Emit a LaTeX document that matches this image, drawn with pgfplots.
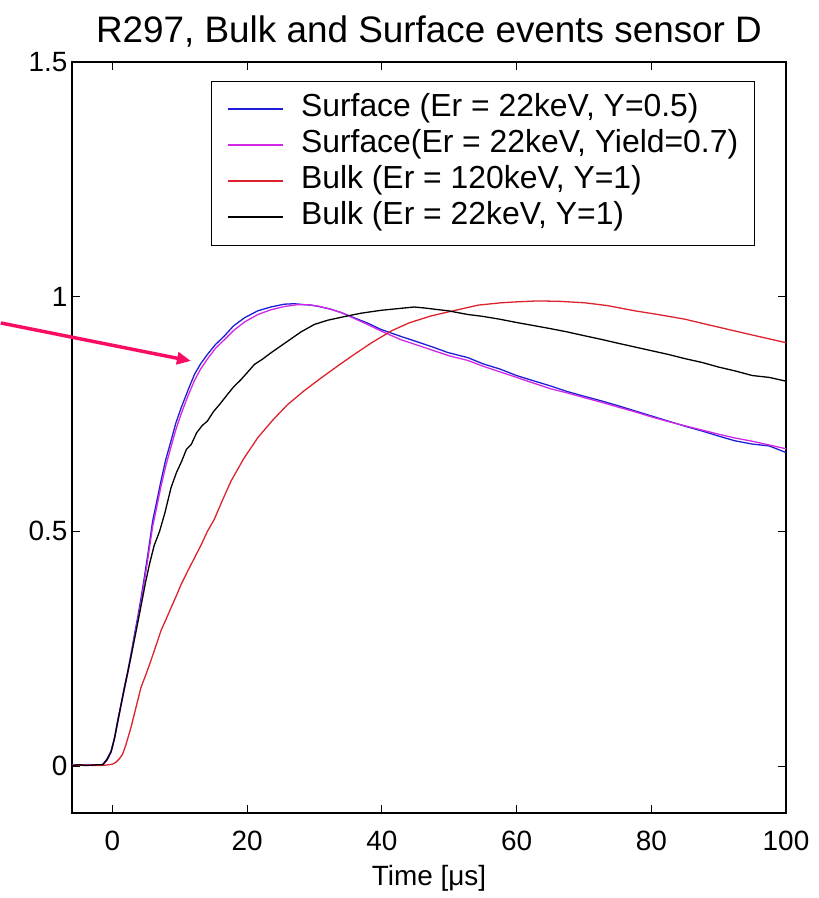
\documentclass[border=0pt]{standalone}
\usepackage{fontspec}
\setmainfont{Liberation Sans}
\usepackage{pgfplots}
\pgfplotsset{compat=1.18}
\usetikzlibrary{arrows.meta}

\definecolor{sblue}{RGB}{30,30,215}
\definecolor{smag}{RGB}{210,40,230}
\definecolor{bred}{RGB}{220,35,45}
\definecolor{arrowpink}{RGB}{248,12,100}

\begin{document}
\begin{tikzpicture}
\path[use as bounding box] (-72bp,-85bp) rectangle (747bp,813bp);
\begin{axis}[
  scale only axis, width=714bp, height=751bp,
  xmin=-6, xmax=100, ymin=-0.1, ymax=1.5,
  xtick={0,20,40,60,80,100}, ytick={0,0.5,1,1.5},
  tick align=inside, major tick length=8bp,
  axis line style={line width=1.2bp},
  every tick/.style={black, line width=1bp},
  /pgf/number format/assume math mode=true,
  tick label style={font=\fontsize{28}{28}\selectfont},
  xticklabel style={yshift=-15bp},
  yticklabel style={xshift=-1bp},
  title={R297, Bulk and Surface events sensor D},
  title style={font=\fontsize{37}{37}\selectfont, at={(0.5,1)}, anchor=base, yshift=14bp},
  xlabel={Time [μs]},
  xlabel style={font=\fontsize{28}{28}\selectfont, at={(0.5,0)}, anchor=base, yshift=-72bp},
  clip=false,
  legend cell align=left,
  legend image code/.code={\draw[#1, line width=1.8bp] (0bp,0bp) -- (55bp,0bp);},
  legend style={at={(rel axis cs:0.195,0.975)}, anchor=north west,
    draw=black, line width=1bp, font=\fontsize{32}{36}\selectfont,
    inner xsep=15bp, inner ysep=10bp, row sep=0bp, column sep=16bp,
    nodes={text height=24bp, text depth=9bp, inner sep=1.5bp}},
]
% surface event, Er = 22 keV, Y = 0.5
\addplot[draw=sblue, line width=1.3bp] coordinates {
(-6,0.002)(-5,0.001)(-4,0.003)(-3,0.002)(-2,0.002)(-1.4,0.004)(-0.8,0.015)(-0.2,0.032)
(0.3,0.06)(0.77,0.096)(1.25,0.13)(1.75,0.167)(2.25,0.2)(2.75,0.238)(3.25,0.278)(3.74,0.316)
(4.25,0.358)(4.73,0.401)(5.3,0.455)(5.97,0.522)(6.6,0.565)(7.2,0.607)(7.9,0.652)(8.7,0.693)
(9.4,0.73)(10.2,0.763)(11.2,0.80)(12.2,0.835)(13.1,0.857)(14.1,0.877)(15.3,0.898)(16.6,0.916)
(18.0,0.938)(19.6,0.955)(21.6,0.970)(23.5,0.978)(25.5,0.984)(27.0,0.985)(28.5,0.983)(29.5,0.982)
(31,0.978)(32.5,0.973)(34,0.966)(35.9,0.955)(38,0.943)(39.9,0.930)(42.9,0.915)(44.8,0.906)
(47.5,0.893)(49.8,0.881)(52.8,0.870)(55,0.857)(57.5,0.846)(60,0.832)(62.7,0.820)(65,0.810)
(67.5,0.798)(70,0.788)(72.6,0.778)(75,0.768)(77.5,0.757)(80,0.746)(82.5,0.735)(85,0.724)
(87.5,0.714)(90,0.703)(92.4,0.693)(95,0.686)(97.5,0.682)(100,0.668)};
\addlegendentry{Surface (Er = 22keV, Y=0.5)}
% surface event, Er = 22 keV, yield 0.7
\addplot[draw=smag, line width=1.3bp] coordinates {
(-6,0.002)(-5,0.002)(-4,0.002)(-3,0.003)(-2,0.002)(-1.4,0.003)(-0.8,0.012)(-0.2,0.03)
(0.3,0.058)(0.77,0.092)(1.25,0.127)(1.75,0.163)(2.25,0.196)(2.75,0.232)(3.25,0.272)(3.74,0.31)
(4.25,0.35)(4.73,0.392)(5.3,0.445)(5.97,0.51)(6.6,0.553)(7.2,0.595)(7.9,0.638)(8.7,0.68)
(9.4,0.716)(10.2,0.75)(11.2,0.788)(12.2,0.822)(13.1,0.846)(14.1,0.867)(15.3,0.89)(16.6,0.908)
(18.0,0.928)(19.6,0.946)(21.6,0.962)(23.5,0.972)(25.5,0.979)(27.5,0.983)(29,0.983)(30.5,0.980)
(32,0.975)(34,0.966)(36,0.953)(38,0.940)(40,0.926)(42.9,0.908)(45,0.898)(47.5,0.886)
(50,0.874)(52.8,0.864)(55,0.852)(57.5,0.840)(60,0.828)(62.7,0.815)(65,0.804)(67.5,0.795)
(70,0.785)(72.6,0.775)(75,0.765)(77.5,0.755)(80,0.744)(82.5,0.734)(85,0.725)(87.5,0.716)
(90,0.707)(92.4,0.699)(95,0.692)(97.5,0.684)(100,0.676)};
\addlegendentry{Surface(Er = 22keV, Yield=0.7)}
% bulk event, Er = 120 keV
\addplot[draw=bred, line width=1.3bp] coordinates {
(-6,0.001)(-4,0.002)(-2,0.001)(-1,0.002)(0,0.004)(0.5,0.008)(1.0,0.015)(1.5,0.025)
(2.0,0.045)(2.75,0.082)(3.5,0.125)(4.23,0.167)(5.0,0.196)(5.7,0.224)(6.5,0.258)(7.2,0.288)
(8.0,0.314)(8.7,0.337)(9.5,0.363)(10.2,0.387)(11.2,0.416)(12.2,0.444)(13.2,0.472)(14.1,0.50)
(15.1,0.525)(16.3,0.565)(17.6,0.607)(19.5,0.655)(21.6,0.700)(23.8,0.737)(26.0,0.770)(28.5,0.800)
(31.0,0.827)(33.5,0.853)(35.9,0.877)(38.5,0.902)(41.4,0.927)(44,0.944)(47.3,0.959)(50.3,0.969)
(54.3,0.982)(57.7,0.987)(60,0.989)(63.2,0.991)(66.5,0.990)(70.1,0.987)(73.5,0.981)(77.5,0.970)
(81,0.962)(85.0,0.952)(88.5,0.940)(92.4,0.927)(96,0.915)(100,0.902)};
\addlegendentry{Bulk (Er = 120keV, Y=1)}
% bulk event, Er = 22 keV
\addplot[draw=black, line width=1.3bp] coordinates {
(-6,0.001)(-5,0.003)(-4,0.001)(-3,0.002)(-2,0.003)(-1.4,0.003)(-0.8,0.014)(-0.2,0.03)
(0.3,0.058)(0.77,0.093)(1.25,0.128)(1.75,0.163)(2.25,0.198)(2.8,0.236)(3.3,0.272)(3.8,0.308)
(4.3,0.345)(4.9,0.39)(5.5,0.43)(6.2,0.47)(7.0,0.50)(7.8,0.54)(8.7,0.593)(9.5,0.625)
(10.3,0.65)(11.0,0.675)(11.7,0.685)(12.5,0.71)(13.3,0.725)(14.1,0.735)(15.0,0.755)(16.0,0.772)
(17.1,0.792)(18.0,0.808)(19.0,0.822)(20.0,0.838)(21.1,0.856)(22.2,0.866)(23.5,0.880)(25.0,0.895)
(26.5,0.91)(28.0,0.925)(30.0,0.941)(32.0,0.950)(34.9,0.959)(37,0.965)(39.9,0.971)(42.0,0.974)
(44.8,0.978)(46.3,0.976)(48,0.973)(49.8,0.970)(52.8,0.962)(55,0.958)(57.5,0.952)(60,0.945)
(62.7,0.938)(65,0.932)(67.5,0.925)(70,0.917)(72.6,0.909)(75,0.901)(77.5,0.893)(80,0.885)
(82.5,0.877)(85,0.868)(87.5,0.860)(90,0.850)(92.4,0.842)(95,0.832)(97.5,0.828)(100,0.820)};
\addlegendentry{Bulk (Er = 22keV, Y=1)}
% pointer to the rising edge of the surface pulses
\draw[arrowpink, line width=3.5bp, -{Triangle[length=14bp,width=12bp]}]
  (axis cs:-16.57,0.944) -- (axis cs:11.66,0.863);
\end{axis}
\end{tikzpicture}
\end{document}
